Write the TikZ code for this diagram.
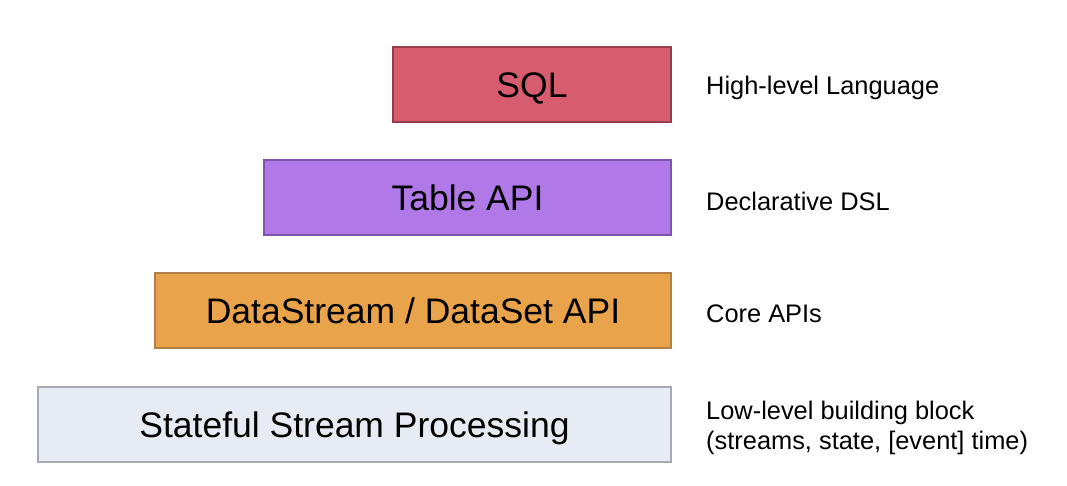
\documentclass[tikz,border=0pt]{standalone}
\usepackage{fontspec}
\setmainfont{Liberation Sans}
\usetikzlibrary{positioning}
\definecolor{SqlRed}{RGB}{214,92,110}
\definecolor{SqlEdge}{RGB}{150,62,78}
\definecolor{TablePurple}{RGB}{177,120,232}
\definecolor{TableEdge}{RGB}{128,84,172}
\definecolor{StreamOrange}{RGB}{233,163,74}
\definecolor{StreamEdge}{RGB}{176,128,72}
\definecolor{StateGray}{RGB}{231,235,243}
\definecolor{StateEdge}{RGB}{165,170,180}
\tikzset{
  layer/.style={draw,line width=1.5pt,minimum height=75pt,inner sep=0pt,
    text height=25.5pt,text depth=0pt,
    font=\fontsize{35.5}{40}\selectfont},
  layernote/.style={anchor=west,align=left,inner sep=0pt,
    font=\fontsize{25.4}{30}\selectfont}
}

\begin{document}
\begin{tikzpicture}[x=1pt,y=-1pt]
  \useasboundingbox (0,0) rectangle (1067,485);
  % the API layers
  \node[layer,fill=SqlRed,draw=SqlEdge,minimum width=278pt] (sql) at (532,84.5) {SQL};
  \node[layer,fill=TablePurple,draw=TableEdge,minimum width=407pt] (table) at (467.5,197.5) {Table API};
  \node[layer,fill=StreamOrange,draw=StreamEdge,minimum width=516pt] (stream) at (413,310.5) {DataStream / DataSet API};
  \node[layer,fill=StateGray,draw=StateEdge,minimum width=633pt] (state) at (354.5,424.5) {Stateful Stream Processing};
  % notes on the right
  \node[layernote] (sqlnote) at (706,88) {High-level Language};
  \node[layernote] (tablenote) at (706,201) {Declarative DSL};
  \node[layernote] (streamnote) at (706,314) {Core APIs};
  \node[layernote] (statenote) at (706,428) {Low-level building block\\(streams, state, [event] time)};
\end{tikzpicture}
\end{document}
